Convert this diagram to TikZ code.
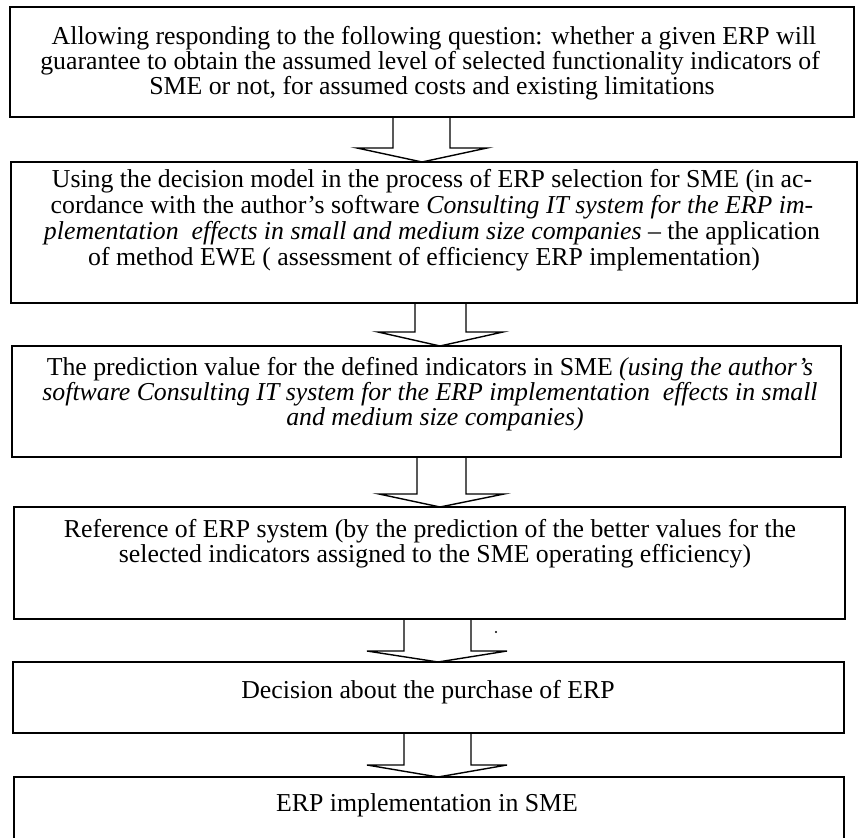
\documentclass[tikz,border=0pt]{standalone}
\usepackage{fontspec}
\setmainfont{Liberation Serif}
\usetikzlibrary{calc}
\tikzset{
  boxframe/.style={draw=black, line width=1.8pt, inner sep=0pt, outer sep=0pt, anchor=north west},
  ln/.style={anchor=base, inner sep=0pt, font=\fontsize{25.8}{26}\selectfont},
  openarrow/.style={draw=black, line width=1.4pt, line join=miter},
}
% #1 from node, #2 to node, #3 shaft left x, #4 shaft right x,
% #5 head left x, #6 head right x, #7 tip x, #8 head base y
\newcommand{\flowarrow}[8]{%
  \draw[openarrow] (#3,0 |- #1.south) -- (#3,#8) -- (#5,#8) -- (#7,0 |- #2.north)
    -- (#6,#8) -- (#4,#8) -- (#4,0 |- #1.south);
}
\begin{document}
\begin{tikzpicture}[x=1pt,y=-1pt]
\useasboundingbox (0,0) rectangle (861,837);

% boxes
\node[boxframe, minimum width=844pt, minimum height=110pt] (b1) at (10,7) {};
\node[boxframe, minimum width=846pt, minimum height=141pt] (b2) at (11,162) {};
\node[boxframe, minimum width=829pt, minimum height=111pt] (b3) at (12,346) {};
\node[boxframe, minimum width=831pt, minimum height=112pt] (b4) at (14,507) {};
\node[boxframe, minimum width=831pt, minimum height=71pt] (b5) at (13,662) {};
\node[boxframe, minimum width=830pt, minimum height=63pt] (b6) at (14,777) {};

% texts
\node[ln] (t1a) at (434,45) {Allowing responding to the following question: whether a given ERP will};
\node[ln] (t1b) at (430,70) {guarantee to obtain the assumed level of selected functionality indicators of};
\node[ln] (t1c) at (432,95) {SME or not, for assumed costs and existing limitations};

\node[ln] (t2a) at (432,187) {Using the decision model in the process of ERP selection for SME (in ac-};
\node[ln] (t2b) at (432,213) {cordance with the author’s software \textit{Consulting IT system for the ERP im-}};
\node[ln] (t2c) at (432,239) {\textit{plementation\ \ effects in small and medium size companies} – the application};
\node[ln] (t2d) at (424,265) {of method EWE ( assessment of efficiency ERP implementation)};

\node[ln] (t3a) at (430,375) {The prediction value for the defined indicators in SME \textit{(using the author’s}};
\node[ln] (t3b) at (430,400) {\textit{software Consulting IT system for the ERP implementation\ \ effects in small}};
\node[ln] (t3c) at (435,425) {\textit{and medium size companies)}};

\node[ln] (t4a) at (430,537) {Reference of ERP system (by the prediction of the better values for the};
\node[ln] (t4b) at (435,562) {selected indicators assigned to the SME operating efficiency)};

\node[ln] (t5) at (428,698) {Decision about the purchase of ERP};
\node[ln] (t6) at (427,811) {ERP implementation in SME};

% arrows
\flowarrow{b1}{b2}{393}{450}{357}{487}{422}{148}
\flowarrow{b2}{b3}{415}{466}{378}{503}{440}{332}
\flowarrow{b3}{b4}{417}{466}{379}{504}{440}{494}
\flowarrow{b4}{b5}{404}{471}{367}{507}{438}{651}
\flowarrow{b5}{b6}{404}{471}{367}{507}{438}{765}

% speck
\fill (496,632) circle (1.1pt);
\end{tikzpicture}
\end{document}
